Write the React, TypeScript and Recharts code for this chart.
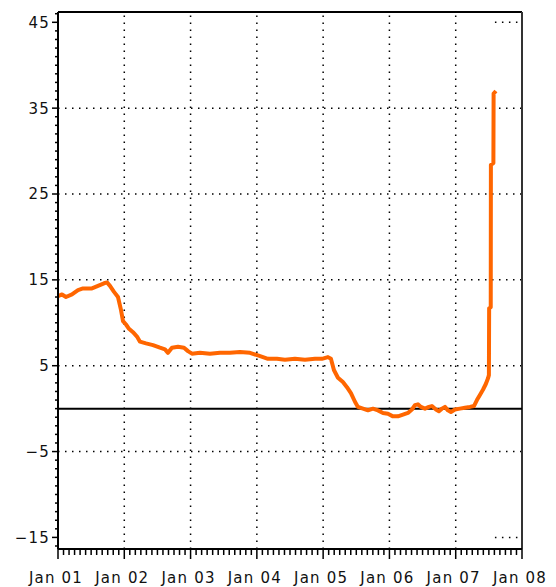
import React from 'react';
import { LineChart, Line, XAxis, YAxis, ReferenceLine } from 'recharts';

// time in months since Jan 2001
const months = [
  0, 0.72, 1.45, 2.53, 3.62, 4.53, 6.15, 7.24, 8.33, 8.87, 9.41, 10.14, 10.86, 11.4, 11.77,
  12.31, 12.85, 13.58, 14.3, 14.84, 15.93, 17.2, 18.46, 19.37, 19.91, 20.63, 21.72, 22.81, 23.53,
  24.25, 25.7, 27.51, 29.32, 31.13, 32.94, 34.75, 36.2, 37.11, 38.01, 39.64, 41.09, 42.9, 44.71,
  46.52, 47.78, 48.87, 49.41, 49.95, 50.68, 51.58, 52.31, 53.03, 53.76, 54.3, 55.21, 56.11, 57.02,
  57.92, 58.83, 59.73, 60.64, 61.54, 62.45, 63.35, 64.07, 64.62, 65.16, 65.7, 66.43, 67.15, 67.69,
  68.42, 68.96, 69.5, 70.05, 70.59, 71.13, 71.86, 72.76, 73.67, 74.57, 75.3, 75.84, 76.38, 76.93,
  77.47, 77.83, 78.01, 78.05, 78.34, 78.37, 78.82, 78.86, 79.28,
];
const values = [
  13.1, 13.3, 13.0, 13.3, 13.8, 14.0, 14.0, 14.3, 14.6, 14.7, 14.3, 13.6, 13.0, 11.5, 10.2,
  9.8, 9.3, 8.9, 8.4, 7.8, 7.6, 7.4, 7.1, 6.9, 6.5, 7.1, 7.2, 7.1, 6.7,
  6.4, 6.5, 6.4, 6.5, 6.5, 6.6, 6.5, 6.2, 6.0, 5.8, 5.8, 5.7, 5.8, 5.7,
  5.8, 5.8, 6.0, 5.8, 4.5, 3.6, 3.1, 2.5, 1.8, 0.8, 0.2, 0.0, -0.2, 0.0,
  -0.2, -0.5, -0.6, -0.9, -0.9, -0.7, -0.5, -0.1, 0.4, 0.5, 0.2, 0.0, 0.2, 0.3,
  -0.1, -0.3, 0.0, 0.2, -0.2, -0.4, -0.1, 0.0, 0.1, 0.2, 0.3, 1.0, 1.6, 2.2,
  2.9, 3.5, 3.9, 11.7, 11.8, 28.4, 28.6, 36.7, 37.0,
];

const xTickLabels = ['Jan 01', 'Jan 02', 'Jan 03', 'Jan 04', 'Jan 05', 'Jan 06', 'Jan 07', 'Jan 08'];
const yMajorTicks = [-15, -5, 5, 15, 25, 35, 45];
const yTickLabels = ['\u221215', '\u22125', '5', '15', '25', '35', '45'];
const gridY = [35, 25, 15, 5, -5];
const gridX = [12, 24, 36, 48, 60, 72];

const data = months.map((m, i) => ({ m, v: values[i] }));
const monthTicks = Array.from({ length: 85 }, (_, i) => i);
const yTicks = Array.from({ length: 63 }, (_, i) => i - 16);

const FONT = '"DejaVu Sans", sans-serif';

const XTick = (props: any) => {
  const { x, y, payload } = props;
  const v = payload.value as number;
  const major = v % 12 === 0;
  return (
    <g>
      <line x1={x} x2={x} y1={y} y2={y + (major ? 10 : 6)} stroke="#000" strokeWidth={1.5} />
      {major && (
        <text x={x - 2} y={y + 34} textAnchor="middle" fontFamily={FONT} fontSize={15} letterSpacing={1.2} fill="#111">
          {xTickLabels[v / 12]}
        </text>
      )}
    </g>
  );
};

const YTick = (props: any) => {
  const { x, y, payload } = props;
  const v = payload.value as number;
  const idx = yMajorTicks.indexOf(v);
  const major = idx >= 0;
  return (
    <g>
      <line x1={x - (major ? 6 : 3)} x2={x} y1={y} y2={y} stroke="#000" strokeWidth={1.5} />
      {major && (
        <text x={x - 8} y={y} dy="0.36em" textAnchor="end" fontFamily={FONT} fontSize={15} letterSpacing={1.2} fill="#111">
          {yTickLabels[idx]}
        </text>
      )}
    </g>
  );
};

const dotted = { stroke: '#000', strokeWidth: 1.5, strokeDasharray: '1.5 5.5' };

export default function App() {
  return (
    <div style={{ position: 'absolute', left: 0, top: 0, background: '#fff' }}>
      <LineChart width={556} height={587} data={data} margin={{ top: 12, right: 34, left: 0, bottom: 0 }}>
        <XAxis
          dataKey="m"
          type="number"
          domain={[0, 84]}
          ticks={monthTicks}
          interval={0}
          tickLine={false}
          tickSize={0}
          tickMargin={0}
          height={38}
          axisLine={{ stroke: '#000', strokeWidth: 2 }}
          tick={<XTick />}
          allowDataOverflow
        />
        <YAxis
          type="number"
          domain={[-16.35, 46.2]}
          ticks={yTicks}
          interval={0}
          tickLine={false}
          tickSize={0}
          tickMargin={0}
          width={58}
          axisLine={{ stroke: '#000', strokeWidth: 2 }}
          tick={<YTick />}
          allowDataOverflow
        />
        {gridY.map((g) => (
          <ReferenceLine key={'gy' + g} y={g} {...dotted} />
        ))}
        {gridX.map((g) => (
          <ReferenceLine key={'gx' + g} x={g} {...dotted} />
        ))}
        <ReferenceLine segment={[{ x: 79.1, y: 45 }, { x: 83.3, y: 45 }]} {...dotted} />
        <ReferenceLine segment={[{ x: 79.1, y: -15 }, { x: 83.3, y: -15 }]} {...dotted} />
        <ReferenceLine y={46.2} stroke="#000" strokeWidth={2} />
        <ReferenceLine x={84} stroke="#333" strokeWidth={2} />
        <ReferenceLine y={0} stroke="#000" strokeWidth={2} />
        <Line
          type="linear"
          dataKey="v"
          stroke="#FF6600"
          strokeWidth={4}
          dot={false}
          isAnimationActive={false}
          strokeLinejoin="round"
        />
      </LineChart>
    </div>
  );
}
